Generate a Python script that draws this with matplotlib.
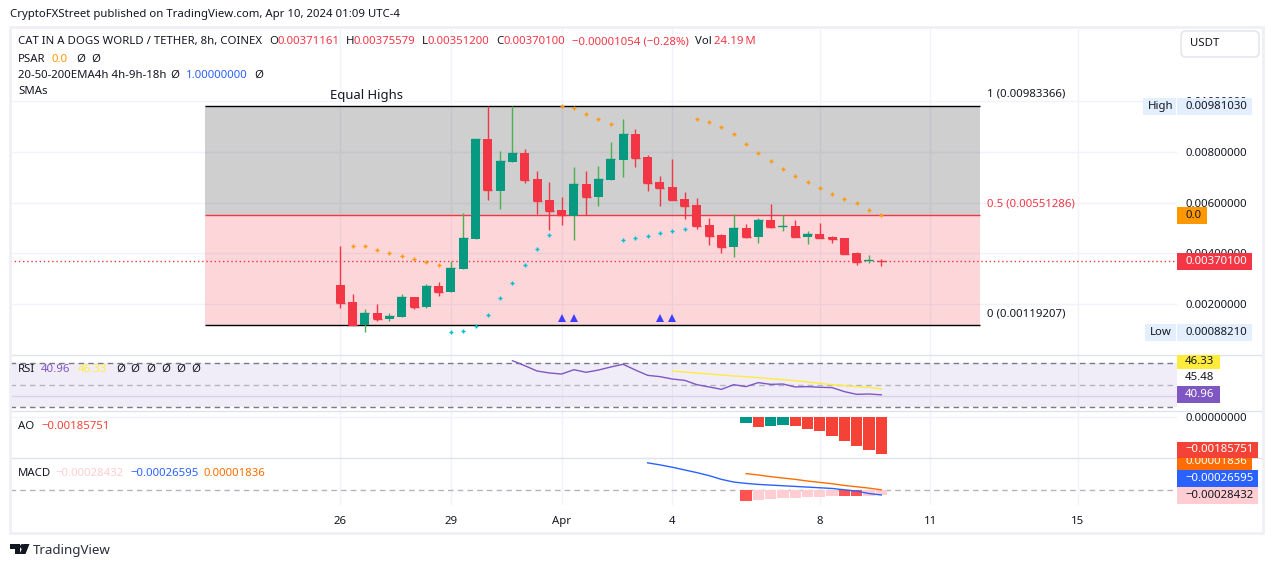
import matplotlib
matplotlib.use('Agg')
import matplotlib.pyplot as plt
import numpy as np
from matplotlib.lines import Line2D
from matplotlib.patches import Rectangle, Polygon, FancyBboxPatch
from matplotlib.transforms import Affine2D

plt.rcParams['font.family'] = ['Noto Sans', 'DejaVu Sans']

W, H = 1273, 568
FS = 8.2

# candles, prices in units of 0.00001
opens = [275.4, 208.4, 117.6, 165, 141.3, 149.2, 228.1, 188.7, 271.5, 247.8, 338.6, 456.9, 851.4, 646.3, 760.7,
         796.2, 693.6, 610.8, 571.3, 547.7, 673.9, 622.6, 689.7, 768.6, 871.1, 780.4, 681.8, 662.1, 614.7, 591,
         512.1, 472.7, 425.4, 500.3, 464.8, 531.9, 504.3, 508.2, 464.8, 476.6, 464.8, 460.9, 401.7, 370.1, 371.161]
highs = [429.3, 240, 180.8, 200.5, 165, 240, 228.1, 279.4, 287.3, 370.1, 559.5, 851.4, 981.03, 804.1, 981,
         812, 725.2, 681.8, 622.6, 741, 725.2, 744.9, 839.6, 930.3, 890.9, 788.3, 705.5, 772.5, 642.3, 618.7,
         539.8, 476.6, 555.5, 516.1, 539.8, 595, 551.6, 531.9, 488.5, 520, 468.8, 460.9, 405.6, 393.8, 378]
lows = [184.7, 117.6, 88.21, 133.4, 133.4, 149.2, 180.8, 184.7, 232.1, 247.8, 338.6, 456.9, 610.8, 575.3, 760.7,
        677.8, 555.5, 492.4, 512.1, 453, 550.3, 587.1, 689.7, 701.5, 741, 646.3, 587.1, 610.8, 535.8, 496.4,
        433.2, 401.7, 385.9, 460.9, 441.1, 500.3, 488.5, 464.8, 437.2, 460.9, 441.1, 397.7, 354.3, 362.2, 351.2]
closes = [204.4, 117.6, 165, 141.3, 153.2, 228.1, 188.7, 271.5, 247.8, 342.5, 460.9, 851.4, 650.2, 764.6, 796.2,
          689.7, 606.8, 567.4, 550.3, 673.9, 622.6, 693.6, 772.5, 871.1, 776.5, 677.8, 658.1, 610.8, 587.1, 508.2,
          468.8, 425.4, 500.3, 464.8, 531.9, 504.3, 508.2, 464.8, 476.6, 460.9, 456.9, 397.7, 366.2, 374.1, 370.1]

# parabolic sar, same units
psar_up_idx = [1, 2, 3, 4, 5, 6, 7, 8, 18, 19, 20, 21, 22, 29, 30, 31, 32, 33, 34, 35, 36, 37, 38, 39, 40, 41, 42, 43, 44]
psar_up = [428, 428, 412.2, 400.4, 388.5, 376.7, 364.9, 353, 980.3, 972.4, 948.7, 929, 909.3, 929, 917.2, 897.4,
           869.8, 830.4, 794.9, 763.3, 731.8, 704.1, 680.5, 656.8, 633.1, 613.4, 597.6, 570, 550.3]
psar_dn_idx = [9, 10, 11, 12, 13, 14, 15, 16, 17, 23, 24, 25, 26, 27, 28]
psar_dn = [88.7, 92.7, 112.4, 155.8, 222.9, 282, 353, 416.2, 471.4, 451.7, 459.6, 467.4, 479.3, 487.2, 495.1]

signal_idx = [18, 19, 26, 27]
signal_price = [144, 144, 144, 144]

fib_levels = [0.00983366, 0.00551286, 0.00119207]
fib_start, fib_end = -11, 52
last_price = 0.00370100
price_ticks = [0.002, 0.004, 0.006, 0.008, 0.01]

rsi_idx = list(range(14, 45))
rsi = [72.4, 67.8, 62.9, 61.1, 60.1, 64.1, 61.7, 63.8, 66.6, 69.1, 63.8, 58.9, 57.7, 55.5, 54.3, 50.3, 48.2, 46,
       50.3, 48.5, 52.2, 50.6, 50.9, 48.2, 48.5, 47.9, 47.6, 43.9, 41.4, 41.7, 40.96]
rsi_ma_idx = list(range(27, 45))
rsi_ma = [62.9, 62, 61.1, 60.2, 59.2, 58.3, 57.7, 56.8, 55.8, 54.9, 54, 52.8, 51.5, 50.3, 49.4, 48.5, 47.9, 46.33]

ao_idx = list(range(33, 45))
ao = [-0.000285, -0.000502, -0.000452, -0.000402, -0.000452, -0.000602, -0.000703, -0.000954, -0.001205,
      -0.001456, -0.001657, -0.00185751]
ao_colors = ['#009688', '#f44336', '#009688', '#009688', '#f44336', '#f44336', '#f44336', '#f44336', '#f44336',
             '#f44336', '#f44336', '#f44336']

hist_idx = list(range(33, 45))
hist = [-0.000592, -0.000537, -0.000481, -0.000426, -0.000426, -0.00037, -0.00037, -0.000315, -0.000315,
        -0.000315, -0.000315, -0.00028432]
hist_colors = ['#ff5252', '#ffcdd2', '#ffcdd2', '#ffcdd2', '#ffcdd2', '#ffcdd2', '#ffcdd2', '#ffcdd2', '#ff5252',
               '#ff5252', '#ffcdd2', '#ffcdd2']
macd_idx = list(range(25, 45))
macd = [0.001499, 0.001388, 0.001258, 0.00111, 0.000962, 0.000796, 0.000592, 0.000444, 0.00037, 0.000315, 0.000278,
        0.000241, 0.000204, 0.000167, 0.00013, 0.000093, 0.000019, -0.000056, -0.000185, -0.00026595]
signal_line_idx = list(range(33, 45))
signal_line = [0.000907, 0.000833, 0.00074, 0.000666, 0.000592, 0.0005, 0.000426, 0.000352, 0.000259, 0.000185,
               0.000111, 0.00001836]

date_idx = [0, 9, 18, 27, 39, 48, 60]
date_labels = ['26', '29', 'Apr', '4', '8', '11', '15']

TEXT = '#131722'
GRID = '#f0f3fa'
SEP = '#e0e3eb'
RED = '#f23645'
TEAL = '#089981'
UP_WICK = '#4caf50'

# x scale: bar 0 sits at 340.3 px, bars are 12.295 px apart, plot area 10..1177 px
xlim = ((10 - 340.3) / 12.295, (1177 - 340.3) / 12.295)

fig = plt.figure(figsize=(W / 100, H / 100), dpi=100, facecolor='white')
tr = Affine2D().scale(1, -1).translate(0, H)  # page chrome in image pixels


def pane(top, bottom, ylim):
    ax = fig.add_axes([10 / W, 1 - bottom / H, (1177 - 10) / W, (bottom - top) / H])
    ax.set_xlim(xlim)
    ax.set_ylim(ylim)
    ax.set_xticks(date_idx)
    ax.set_xticklabels([])
    ax.set_yticks([])
    ax.tick_params(length=0)
    ax.grid(True, axis='x', color=GRID, lw=1)
    ax.set_axisbelow(True)
    for s in ax.spines.values():
        s.set_visible(False)
    return ax


def label(x, y, s, color=TEXT, size=FS, ha='left', zorder=5, **kw):
    return fig.text(x, y, s, color=color, fontsize=size, ha=ha, va='center', transform=tr, zorder=zorder, **kw)


def tag(x0, x1, y0, y1, color, s=None, tcolor='white', tx=1185, ty=None, zorder=4):
    fig.add_artist(Rectangle((x0, y0), x1 - x0, y1 - y0, facecolor=color, edgecolor='none', transform=tr, zorder=zorder))
    if s:
        label(tx, (y0 + y1) / 2 if ty is None else ty, s, color=tcolor, zorder=zorder + 0.5)


ax_main = pane(27, 355, (-0.00001, 0.012931))
ax_rsi = pane(355, 411.3, (25.76, 77.65))
ax_ao = pane(411.3, 457.5, (-0.002033, 0.000286))
ax_macd = pane(457.5, 505, (-0.000816, 0.001793))

# main pane
ax_main.yaxis.tick_right()
ax_main.set_yticks(price_ticks)
ax_main.set_yticklabels(['%.8f' % p for p in price_ticks], fontsize=FS, color=TEXT)
ax_main.tick_params(axis='y', pad=6, length=0)
ax_main.grid(True, axis='y', color=GRID, lw=1)

ax_main.axhspan(fib_levels[1], fib_levels[0], xmin=(fib_start - xlim[0]) / (xlim[1] - xlim[0]),
                xmax=(fib_end - xlim[0]) / (xlim[1] - xlim[0]), color='black', alpha=0.19, lw=0, zorder=1.5)
ax_main.axhspan(fib_levels[2], fib_levels[1], xmin=(fib_start - xlim[0]) / (xlim[1] - xlim[0]),
                xmax=(fib_end - xlim[0]) / (xlim[1] - xlim[0]), color=RED, alpha=0.2, lw=0, zorder=1.5)
ax_main.hlines(fib_levels, fib_start, fib_end, colors=['black', RED, 'black'], lw=1, zorder=1.7)
ax_main.axhline(last_price, color=RED, lw=1, ls=(0, (1, 2)), zorder=2)

o = np.array(opens) * 1e-5
h = np.array(highs) * 1e-5
l = np.array(lows) * 1e-5
c = np.array(closes) * 1e-5
idx = np.arange(len(o))
up = c >= o
body_colors = [TEAL if u else RED for u in up]
ax_main.vlines(idx, l, h, colors=[UP_WICK if u else RED for u in up], lw=1, zorder=3)
ax_main.bar(idx, np.abs(c - o), bottom=np.minimum(o, c), width=0.73, color=body_colors, lw=0, zorder=3.5)
# thin bodies still show as a 1px line
ax_main.hlines(c, idx - 0.365, idx + 0.365, colors=body_colors, lw=1, zorder=3.6)
ax_main.plot(psar_up_idx, np.array(psar_up) * 1e-5, ls='none', marker='+', ms=2.6, mew=1, color='#ff9800', zorder=4)
ax_main.plot(psar_dn_idx, np.array(psar_dn) * 1e-5, ls='none', marker='+', ms=2.6, mew=1, color='#00bcd4', zorder=4)
ax_main.plot(signal_idx, np.array(signal_price) * 1e-5, ls='none', marker='^', ms=5.8, mew=0, color='#3f3fff', zorder=4)

# rsi pane
ax_rsi.axhspan(30, 70, color='#7e57c2', alpha=0.1, lw=0, zorder=1)
ax_rsi.grid(True, axis='y', color=SEP, lw=1)
ax_rsi.set_yticks([40])
ax_rsi.set_yticklabels([])
ax_rsi.hlines([70, 30], *xlim, colors='#787b86', lw=1, ls=(0, (4, 3)), zorder=2)
ax_rsi.hlines([50], *xlim, colors='#b2b5be', lw=1, ls=(0, (4, 3)), zorder=2)
ax_rsi.plot(rsi_ma_idx, rsi_ma, color='#ffeb3b', lw=1, zorder=3)
ax_rsi.plot(rsi_idx, rsi, color='#7e57c2', lw=1, zorder=3.5)

# ao pane
ax_ao.yaxis.tick_right()
ax_ao.set_yticks([0])
ax_ao.set_yticklabels(['0.00000000'], fontsize=FS, color=TEXT)
ax_ao.tick_params(axis='y', pad=6, length=0)
ax_ao.grid(True, axis='y', color=GRID, lw=1)
ax_ao.bar(ao_idx, ao, width=0.92, color=ao_colors, lw=0, zorder=3)

# macd pane
ax_macd.axhline(0, color='#b2b5be', lw=1, ls=(0, (4, 3)), zorder=2)
ax_macd.bar(hist_idx, hist, width=0.92, color=hist_colors, lw=0, zorder=3)
ax_macd.plot(signal_line_idx, signal_line, color='#ff6d00', lw=1, zorder=4)
ax_macd.plot(macd_idx, macd, color='#2962ff', lw=1, zorder=4.5)
ax_macd.set_xticklabels(date_labels, fontsize=FS, color=TEXT)
ax_macd.tick_params(axis='x', pad=8, length=0)
ax_macd.get_xticklabels()[2].set_fontweight('medium')

# pane separators and outer frame
for y in [355, 411.3, 457.5]:
    fig.add_artist(Line2D([10, 1262], [y, y], color=SEP, lw=1, transform=tr, zorder=3))
fig.add_artist(Rectangle((10, 27), 1252.5, 505.5, fill=False, edgecolor='#eef0f6', lw=2, transform=tr, zorder=3))

# right scale tags
tag(1143, 1176, 98, 114.7, '#e3effd', 'High', TEXT, tx=1148)
tag(1177, 1252, 98, 114.7, '#e3effd', '0.00981030', TEXT)
tag(1145, 1176, 324, 340.7, '#e3effd', 'Low', TEXT, tx=1150)
tag(1177, 1252, 324, 340.7, '#e3effd', '0.00088210', TEXT)
tag(1177, 1207, 207, 224, '#ff9800', '0.0', TEXT)
tag(1177, 1252, 253, 270, RED, '0.00370100')
tag(1177, 1220, 355, 369, '#ffeb3b', '46.33', TEXT, ty=361)
label(1185, 378, '45.48')
tag(1177, 1220, 386, 403, '#7e57c2', '40.96')
tag(1177, 1252, 458, 469.5, '#ff6d00', '0.00001836', ty=462, zorder=3.2)
tag(1177, 1258, 442, 458, '#f44336', '\u22120.00185751', tx=1185, zorder=4)
tag(1177, 1258, 470, 487, '#2962ff', '\u22120.00026595', tx=1185)
tag(1177, 1258, 487, 504, '#ffcdd2', '\u22120.00028432', TEXT, tx=1185)

# usdt button
fig.add_artist(FancyBboxPatch((1183, 33), 74, 22, boxstyle='round,pad=2,rounding_size=5', facecolor='white',
                              edgecolor=SEP, lw=1, transform=tr, zorder=4))
label(1190, 44, 'USDT')

# header
label(10, 14.5, 'CryptoFXStreet published on TradingView.com, Apr 10, 2024 01:09 UTC-4')
label(18, 41.5, 'CAT IN A DOGS WORLD / TETHER, 8h, COINEX')
for x, s in [(269.3, 'O'), (346, 'H'), (422.3, 'L'), (496.7, 'C'), (695.3, 'Vol')]:
    label(x, 41.5, s)
for x, s in [(278, '0.00371161'), (354, '0.00375579'), (428, '0.00351200'), (504, '0.00370100'),
             (572.3, '\u22120.00001054 (\u22120.28%)'), (714, '24.19\u2009M')]:
    label(x, 41.5, s, color=RED)
label(18, 59, 'PSAR')
label(52, 59, '0.0', color='#ff9800')
label(76, 59, '\u00d8')
label(91, 59, '\u00d8')
label(18, 75.5, '20-50-200EMA4h 4h-9h-18h')
label(170, 75.5, '\u00d8')
label(186, 75.5, '1.00000000', color='#2962ff')
label(254, 75.5, '\u00d8')
label(18, 92, 'SMAs')
label(330, 95.5, 'Equal Highs', size=9.4)
label(987, 94.5, '1 (0.00983366)')
label(987, 204.5, '0.5 (0.00551286)', color=RED)
label(987, 313.5, '0 (0.00119207)')

label(18, 369.5, 'RSI')
label(41, 369.5, '40.96', color='#7e57c2')
label(78, 369.5, '46.33', color='#ffeb3b')
for x in [116, 130, 146, 161, 176, 191]:
    label(x, 369.5, '\u00d8')
label(18, 426.5, 'AO')
label(41, 426.5, '\u22120.00185751', color='#f44336')
label(18, 473.5, 'MACD')
label(55, 473.5, '\u22120.00028432', color='#ffcdd2')
label(130, 473.5, '\u22120.00026595', color='#2962ff')
label(204, 473.5, '0.00001836', color='#ff6d00')

# tradingview mark
for pts in [[(10, 544), (19.5, 544), (19.5, 554), (15, 554), (15, 549), (10, 549)],
            [(24, 544), (29.5, 544), (25.5, 554), (19.5, 554)]]:
    fig.add_artist(Polygon(pts, closed=True, facecolor='#131722', edgecolor='none', transform=tr, zorder=4))
fig.add_artist(Line2D([21.5], [546], marker='o', ms=3.6, mew=0, color='#131722', transform=tr, zorder=4))
label(33, 550.5, 'TradingView', size=9.6, color='#2a2e39')

fig.savefig('out.png', dpi=100)
